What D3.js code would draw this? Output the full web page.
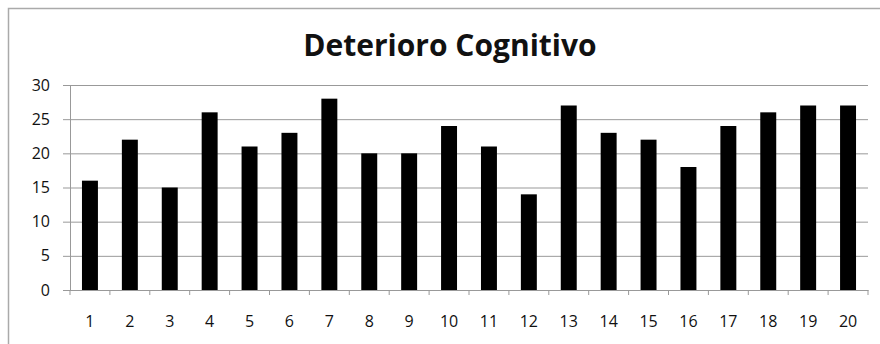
<!DOCTYPE html>
<html lang="en">
<head>
    <meta charset="UTF-8">
    <title>Deterioro Cognitivo</title>
    <script src="https://d3js.org/d3.v7.min.js"></script>
    <style>
        body { margin: 0; background: #fff; }
        .axis text { font-family: "Open Sans", sans-serif; font-size: 16px; fill: #111; }
        .axis path, .axis line { stroke: #999; }
        .grid line { stroke: #999; }
        .grid path { display: none; }
        .title { font-family: "Open Sans", sans-serif; font-weight: bold; font-size: 30px; fill: #111; }
    </style>
</head>
<body>
    <div id="chart"></div>
    <script>
        // Chart data
        const categories = d3.range(1, 21).map(String);
        const values = [16, 22, 15, 26, 21, 23, 28, 20, 20, 24, 21, 14, 27, 23, 22, 18, 24, 26, 27, 27];
        const yTicks = [0, 5, 10, 15, 20, 25, 30];
        const chartTitle = "Deterioro Cognitivo";

        const width = 880, height = 344;
        const plotLeft = 70, plotRight = 868, plotTop = 85, plotBottom = 290;

        const svg = d3.select("#chart")
            .append("svg")
            .attr("width", width)
            .attr("height", height);

        // outer frame
        svg.append("rect")
            .attr("x", 8.5)
            .attr("y", 8.5)
            .attr("width", 900)
            .attr("height", 400)
            .attr("fill", "none")
            .attr("stroke", "#aaa")
            .attr("stroke-width", 1.5);

        const xScale = d3.scaleBand()
            .domain(categories)
            .range([plotLeft, plotRight])
            .paddingInner(0.6)
            .paddingOuter(0.3);

        const yScale = d3.scaleLinear()
            .domain([0, 30])
            .range([plotBottom, plotTop]);

        // horizontal gridlines
        svg.append("g")
            .attr("class", "grid")
            .attr("transform", `translate(${plotLeft}, 0)`)
            .call(d3.axisLeft(yScale)
                .tickValues(yTicks)
                .tickSize(-(plotRight - plotLeft))
                .tickFormat(""));

        // bars
        svg.selectAll(".bar")
            .data(values)
            .enter()
            .append("rect")
            .attr("class", "bar")
            .attr("x", (d, i) => xScale(categories[i]))
            .attr("y", d => yScale(d))
            .attr("width", xScale.bandwidth())
            .attr("height", d => plotBottom - yScale(d))
            .attr("fill", "#000");

        // y axis
        svg.append("g")
            .attr("class", "axis")
            .attr("transform", `translate(${plotLeft}, 0)`)
            .call(d3.axisLeft(yScale)
                .tickValues(yTicks)
                .tickSize(7)
                .tickSizeOuter(0)
                .tickPadding(13));

        // x axis, ticks on band boundaries
        const xAxis = svg.append("g")
            .attr("class", "axis")
            .attr("transform", `translate(0, ${plotBottom})`)
            .call(d3.axisBottom(xScale)
                .tickSize(0)
                .tickSizeOuter(0)
                .tickPadding(26));

        const bandW = (plotRight - plotLeft) / categories.length;
        xAxis.selectAll(".sep")
            .data(d3.range(categories.length + 1))
            .enter()
            .append("line")
            .attr("class", "sep")
            .attr("x1", i => plotLeft + i * bandW)
            .attr("x2", i => plotLeft + i * bandW)
            .attr("y1", 0)
            .attr("y2", 5)
            .attr("stroke", "#999");

        // title
        svg.append("text")
            .attr("class", "title")
            .attr("x", 450)
            .attr("y", 56)
            .attr("text-anchor", "middle")
            .text(chartTitle);
    </script>
</body>
</html>
